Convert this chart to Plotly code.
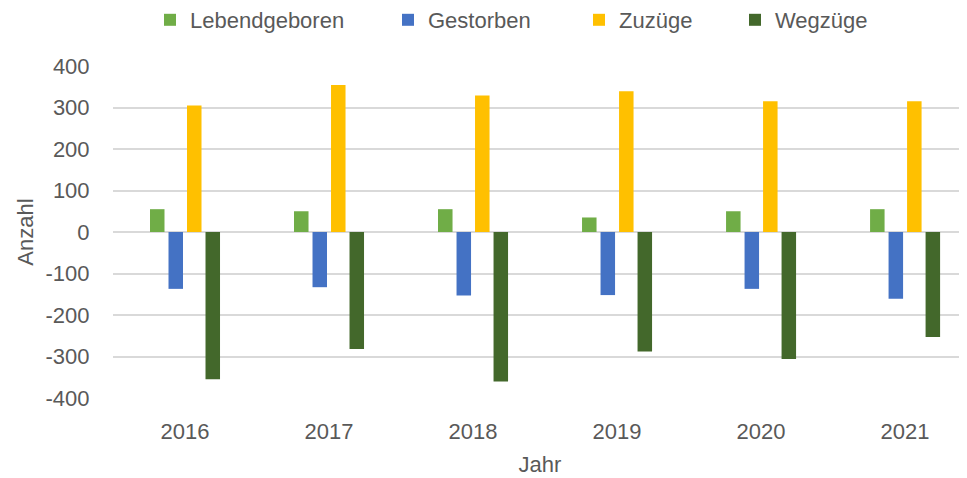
import plotly.graph_objects as go

years = ["2016", "2017", "2018", "2019", "2020", "2021"]
lebendgeboren = [55, 50, 55, 35, 50, 55]
gestorben = [-137, -133, -153, -152, -137, -161]
zuzuege = [305, 354, 329, 339, 315, 315]
wegzuege = [-355, -282, -360, -288, -306, -253]
y_tickvals = [-400, -300, -200, -100, 0, 100, 200, 300, 400]
y_ticktext = ["-400", "-300", "-200", "-100", "0", "100", "200", "300", "400"]

series = [
    ("Lebendgeboren", lebendgeboren, "#70AD47"),
    ("Gestorben", gestorben, "#4472C4"),
    ("Zuzüge", zuzuege, "#FFC000"),
    ("Wegzüge", wegzuege, "#43682B"),
]
legend_x = [142, 380, 571, 727]

FONT = "Liberation Sans, Arial, sans-serif"
GREY = "#595959"
W, H = 959, 470  # page body adds an 8px margin

fig = go.Figure()
for i, (name, vals, col) in enumerate(series):
    lg = "legend" if i == 0 else f"legend{i+1}"
    fig.add_trace(go.Bar(x=years, y=vals, name=name, marker_color=col,
                         marker_line_width=0, legend=lg))

layout_legends = {}
for i, lx in enumerate(legend_x):
    key = "legend" if i == 0 else f"legend{i+1}"
    layout_legends[key] = dict(
        xref="container", yref="container", x=lx / W, y=1 - 12 / H,
        xanchor="left", yanchor="middle", orientation="h",
        font=dict(family=FONT, size=22, color=GREY), bgcolor="rgba(0,0,0,0)",
        itemwidth=30,
    )

fig.update_layout(
    width=W, height=H,
    margin=dict(l=105, r=0, t=58, b=80, autoexpand=False),
    paper_bgcolor="white", plot_bgcolor="white",
    barmode="group", bargap=0.486, bargroupgap=0.216,
    font=dict(family=FONT, size=22, color=GREY),
    showlegend=True,
    **layout_legends,
)
fig.update_xaxes(
    type="category", range=[-0.5, 5.43], showgrid=False, showline=False,
    zeroline=False, ticks="outside", ticklen=14, tickcolor="rgba(0,0,0,0)",
    tickfont=dict(family=FONT, size=22, color=GREY),
    title=dict(text="Jahr", font=dict(family=FONT, size=22, color=GREY), standoff=13),
)
fig.update_yaxes(
    range=[-400, 400], tickvals=y_tickvals, ticktext=y_ticktext,
    showgrid=True, gridcolor="#D9D9D9", gridwidth=1.5,
    zeroline=True, zerolinecolor="#D9D9D9", zerolinewidth=1.5, showline=False,
    ticks="outside", ticklen=18, tickcolor="rgba(0,0,0,0)",
    tickfont=dict(family=FONT, size=22, color=GREY),
    title=dict(text="Anzahl", font=dict(family=FONT, size=22, color=GREY), standoff=5),
)

fig.write_html("out.html")
